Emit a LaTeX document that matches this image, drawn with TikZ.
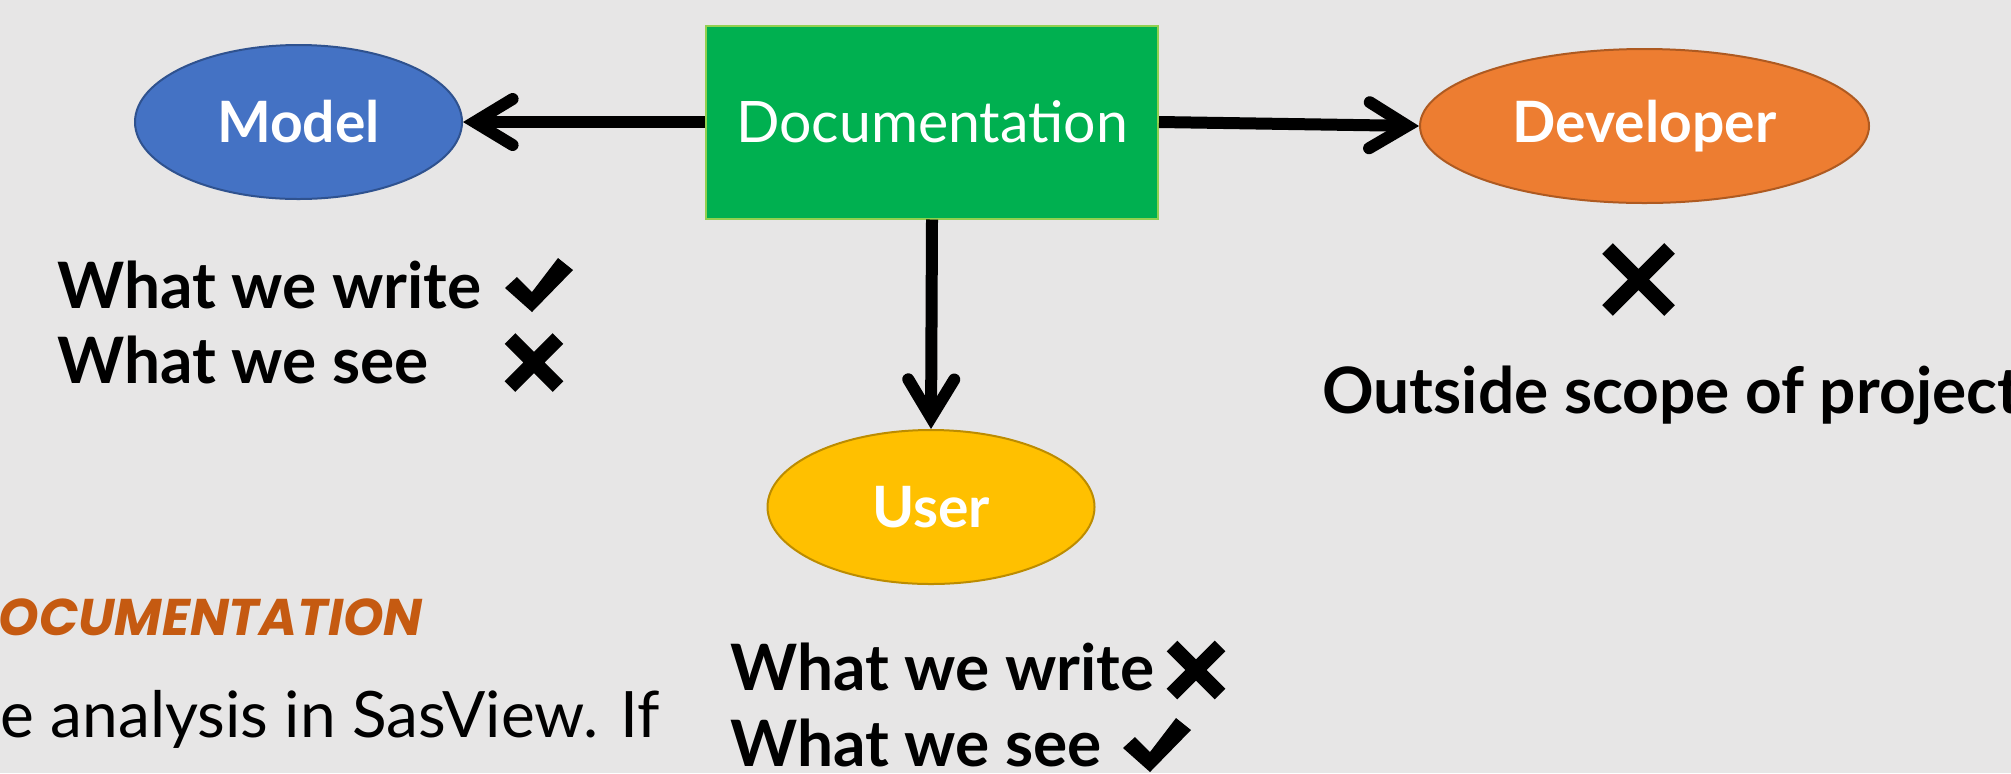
\documentclass[tikz,border=0pt]{standalone}
\usepackage{fontspec}
\setmainfont{Lato}
\newfontfamily\popfont{Poppins}
\usetikzlibrary{shapes.geometric,arrows.meta}
\definecolor{bg}{HTML}{E7E6E6}
\definecolor{docgreen}{HTML}{00B050}
\definecolor{docborder}{HTML}{92D050}
\definecolor{modelblue}{HTML}{4472C4}
\definecolor{modelborder}{HTML}{2F528F}
\definecolor{devorange}{HTML}{ED7D31}
\definecolor{devborder}{HTML}{AE5A21}
\definecolor{useryellow}{HTML}{FFC000}
\definecolor{userborder}{HTML}{BC8C00}
\definecolor{headorange}{HTML}{C55A11}
\tikzset{
  oval/.style={ellipse, line width=1pt, inner sep=0pt, text=white,
    font=\bfseries\fontsize{28.5}{32}\selectfont},
  docbox/.style={rectangle, fill=docgreen, draw=docborder, line width=1pt,
    minimum width=226pt, minimum height=96.5pt, inner sep=0pt, text=white,
    font=\fontsize{28.6}{32}\selectfont},
  conn/.style={line width=6pt,
    -{Straight Barb[length=19pt,width=23pt,line cap=round,line join=miter]}},
  lbl/.style={inner sep=0pt, font=\bfseries\fontsize{32}{38}\selectfont},
  pics/chk/.style={code={\fill (-34,3) -- (-22,-8) -- (-7,7) -- (19,-27) -- (34,-15) -- (-7,27) -- cycle;}},
  pics/crs/.style={code={\draw[line width=7.5pt] (-#1,-#1) -- (#1,#1) (#1,-#1) -- (-#1,#1);}}
}
\begin{document}
\begin{tikzpicture}[x=0.5pt,y=-0.5pt]
\useasboundingbox (0,0) rectangle (2011,773);
\fill[bg] (0,0) rectangle (2011,773);

\node[docbox] (doc) at (932,122) {Documentation};
\node[oval, fill=modelblue, draw=modelborder, minimum width=163.5pt, minimum height=77pt] (model) at (298.5,122) {Model};
\node[oval, fill=devorange, draw=devborder, minimum width=224.5pt, minimum height=77pt] (dev) at (1644.5,126) {Developer};
\node[oval, fill=useryellow, draw=userborder, minimum width=163.5pt, minimum height=77pt] (user) at (931,507) {User};

\draw[conn] (doc.west) -- (model.east);
\draw[conn] (doc.east) -- (dev.west);
\draw[conn] (doc.south) -- (user.north);

\node[lbl, anchor=base west] (mw1) at (57,308) {What we write};
\node[lbl, anchor=base west] (mw2) at (57,383) {What we see};
\pic at (539,285) {chk};
\pic at (534,362.5) {crs=24};

\node[lbl, anchor=base west] (uw1) at (730,690) {What we write};
\node[lbl, anchor=base west] (uw2) at (730,766) {What we see};
\pic at (1196,670) {crs=24};
\pic at (1157,745) {chk};

\pic at (1638.5,279.5) {crs=31};
\node[lbl, anchor=base west] (out) at (1322,413) {Outside scope of project};

\node[anchor=base east, inner sep=0pt, text=headorange,
  font=\popfont\bfseries\itshape\fontsize{25.8}{30}\selectfont] (head) at (423,635) {DOCUMENTATION};
\node[anchor=base east, inner sep=0pt, font=\fontsize{32}{36}\selectfont] (body) at (660,737) {e analysis in SasView. If};
\end{tikzpicture}
\end{document}
